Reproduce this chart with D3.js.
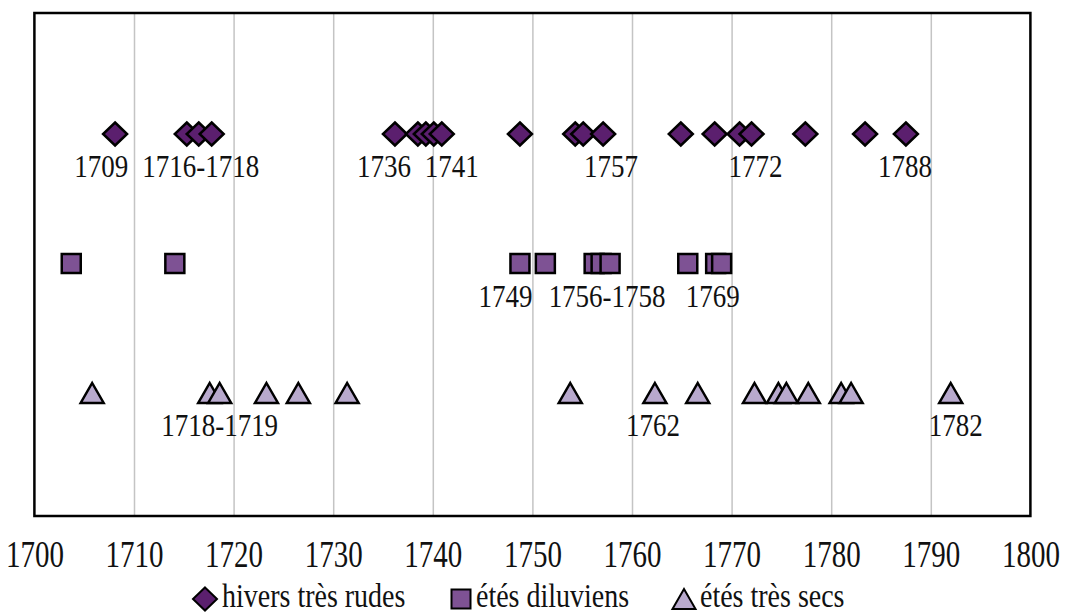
<!DOCTYPE html>
<html>
<head>
<meta charset="utf-8">
<script src="https://cdn.jsdelivr.net/npm/d3@7"></script>
<style>
  html, body { margin: 0; padding: 0; background: #fff; }
  svg { display: block; }
  svg text { font-family: "Liberation Serif", "Times New Roman", "DejaVu Serif", serif; }
</style>
</head>
<body>
<svg id="chart" width="1067" height="614"></svg>
<script>
// ---- data ----
const seriesNames = ["hivers très rudes", "étés diluviens", "étés très secs"];
const winters = [1708.1, 1715.3, 1716.5, 1717.8, 1736.2, 1738.5, 1739.3, 1740.1, 1740.9,
                 1748.75, 1754.3, 1755.1, 1757.1, 1764.9, 1768.3, 1770.8, 1772.0, 1777.4, 1783.4, 1787.5];
const wetSummers = [1703.7, 1714.1, 1748.75, 1751.3, 1756.2, 1756.9, 1757.8, 1765.6, 1768.4, 1769.0];
const drySummers = [1705.8, 1717.6, 1718.6, 1723.3, 1726.5, 1731.4, 1753.8, 1762.3, 1766.6,
                    1772.3, 1774.7, 1775.5, 1777.7, 1781.0, 1782.0, 1792.0];
const winterLabels = [["1709", 1706.7], ["1716-1718", 1716.7], ["1736", 1735.1], ["1741", 1741.9],
                      ["1757", 1757.9], ["1772", 1772.4], ["1788", 1787.4]];
const wetLabels = [["1749", 1747.3], ["1756-1758", 1757.5], ["1769", 1768.1]];
const dryLabels = [["1718-1719", 1718.6], ["1762", 1762.1], ["1782", 1792.5]];
const tickYears = [1700, 1710, 1720, 1730, 1740, 1750, 1760, 1770, 1780, 1790, 1800];
const gridYears = [1710, 1720, 1730, 1740, 1750, 1760, 1770, 1780, 1790];

// ---- layout ----
const FONT = "'Liberation Serif', 'Times New Roman', 'DejaVu Serif', serif";
const svg = d3.select("#chart");
const plotL = 34.4, plotR = 1030.4, plotT = 13, plotB = 516;
const x = d3.scaleLinear().domain([1700, 1800]).range([plotL, plotR]);
const y = d3.scalePoint().domain(seriesNames).range([134, 393]);

const colors = { [seriesNames[0]]: "#5b1f6e", [seriesNames[1]]: "#7e5294", [seriesNames[2]]: "#b8a9cd" };
const shapes = {
  [seriesNames[0]]: "M0,-11.5L12,0L0,11.5L-12,0Z",
  [seriesNames[1]]: "M-9.5,-9.5H9.5V9.5H-9.5Z",
  [seriesNames[2]]: "M0,-10L11.5,10H-11.5Z"
};

// gridlines
svg.append("g")
  .attr("transform", `translate(0,${plotB})`)
  .call(d3.axisBottom(x).tickValues(gridYears).tickSize(-(plotB - plotT)).tickFormat(""))
  .call(g => g.select(".domain").remove())
  .call(g => g.selectAll("line").attr("stroke", "#c4c4c4").attr("stroke-width", 1.5));

// frame
svg.append("rect")
  .attr("x", plotL).attr("y", plotT)
  .attr("width", plotR - plotL).attr("height", plotB - plotT)
  .attr("fill", "none").attr("stroke", "#000").attr("stroke-width", 2.5);

// axis labels
const ax = svg.append("g")
  .attr("transform", `translate(0,${plotB})`)
  .call(d3.axisBottom(x).tickValues(tickYears).tickSize(0).tickFormat(d3.format("d")));
ax.attr("font-family", FONT);
ax.select(".domain").remove();
ax.selectAll("text")
  .attr("font-family", FONT)
  .attr("font-size", 29)
  .attr("fill", "#111")
  .attr("dy", 0)
  .attr("y", 0)
  .attr("transform", "translate(0,51) scale(1,1.3)");

// points
const groups = [[seriesNames[0], winters], [seriesNames[1], wetSummers], [seriesNames[2], drySummers]];
groups.forEach(([name, vals]) => {
  svg.append("g").selectAll("path").data(vals).join("path")
    .attr("d", shapes[name])
    .attr("transform", d => `translate(${x(d)},${y(name)})`)
    .attr("fill", colors[name])
    .attr("stroke", "#000")
    .attr("stroke-width", 2.5)
    .attr("stroke-linejoin", "miter");
});

// point labels
const labelSets = [[seriesNames[0], winterLabels], [seriesNames[1], wetLabels], [seriesNames[2], dryLabels]];
labelSets.forEach(([name, labs]) => {
  svg.append("g").selectAll("text").data(labs).join("text")
    .attr("font-family", FONT)
    .attr("fill", "#111")
    .attr("text-anchor", "middle")
    .attr("font-size", 27)
    .attr("transform", d => `translate(${x(d[1])},${y(name) + 43}) scale(1,1.18)`)
    .text(d => d[0]);
});

// legend
const legendItems = [
  { name: seriesNames[0], sx: 205, tx: 222 },
  { name: seriesNames[1], sx: 461, tx: 476 },
  { name: seriesNames[2], sx: 684, tx: 700 }
];
const lg = svg.append("g");
legendItems.forEach(it => {
  lg.append("path")
    .attr("d", shapes[it.name])
    .attr("transform", `translate(${it.sx},599)`)
    .attr("fill", colors[it.name])
    .attr("stroke", "#000")
    .attr("stroke-width", 2);
  lg.append("text")
    .attr("font-family", FONT)
    .attr("fill", "#111")
    .attr("font-size", 28)
    .attr("transform", `translate(${it.tx},607) scale(1,1.2)`)
    .text(it.name);
});
</script>
</body>
</html>
